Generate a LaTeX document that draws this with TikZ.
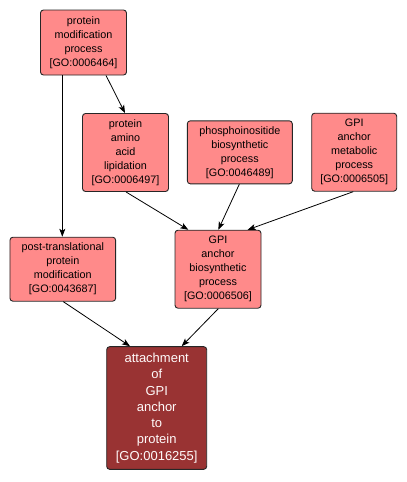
\documentclass[tikz,border=0pt]{standalone}
\usepackage{fontspec}
\setmainfont{Liberation Sans}
\usetikzlibrary{arrows.meta}
\definecolor{lightbox}{HTML}{FF8A8A}
\definecolor{darkbox}{HTML}{993333}
\tikzset{
  gobox/.style={draw=black!85, line width=0.9pt, rounded corners=3pt, fill=lightbox, align=center,
    inner sep=0pt, font=\fontsize{10.8}{14}\selectfont},
  mainbox/.style={gobox, fill=darkbox, text=white!92!pink, font=\fontsize{13}{16.3}\selectfont},
  edge/.style={draw=black, line width=0.8pt, -{Stealth[length=8pt,width=6pt,inset=2pt]}}
}
\begin{document}
\begin{tikzpicture}[x=1pt,y=-1pt]
\useasboundingbox (0,0) rectangle (407,482);
\node[gobox, minimum width=86pt, minimum height=65pt] (b1) at (83.5,42.5) {protein\\modification\\process\\{[GO:0006464]}};
\node[gobox, minimum width=86pt, minimum height=78pt] (b2) at (125.5,152.5) {protein\\amino\\acid\\lipidation\\{[GO:0006497]}};
\node[gobox, minimum width=105pt, minimum height=63pt] (b3) at (239.8,152.3) {phosphoinositide\\biosynthetic\\process\\{[GO:0046489]}};
\node[gobox, minimum width=85pt, minimum height=78pt] (b4) at (354.2,152.2) {GPI\\anchor\\metabolic\\process\\{[GO:0006505]}};
\node[gobox, minimum width=86pt, minimum height=78pt] (b5) at (218,269.2) {GPI\\anchor\\biosynthetic\\process\\{[GO:0006506]}};
\node[gobox, minimum width=105.7pt, minimum height=64pt] (b6) at (62.8,269.2) {post-translational\\protein\\modification\\{[GO:0043687]}};
\node[mainbox, minimum width=100pt, minimum height=122.7pt] (b7) at (156.7,408) {attachment\\of\\GPI\\anchor\\to\\protein\\{[GO:0016255]}};
\draw[edge] ([xshift=22.5pt]b1.south) -- ([xshift=-0.5pt]b2.north);
\draw[edge] ([xshift=-21.2pt]b1.south) -- ([xshift=-0.5pt]b6.north);
\draw[edge] ([xshift=0.5pt]b2.south) -- ([xshift=-29.7pt]b5.north);
\draw[edge] ([xshift=-0.5pt]b3.south) -- ([xshift=0.3pt]b5.north);
\draw[edge] ([xshift=-0.9pt]b4.south) -- ([xshift=29.7pt]b5.north);
\draw[edge] ([xshift=0.5pt]b6.south) -- ([xshift=-26.7pt]b7.north);
\draw[edge] ([xshift=0.3pt]b5.south) -- ([xshift=25pt]b7.north);
\end{tikzpicture}
\end{document}
